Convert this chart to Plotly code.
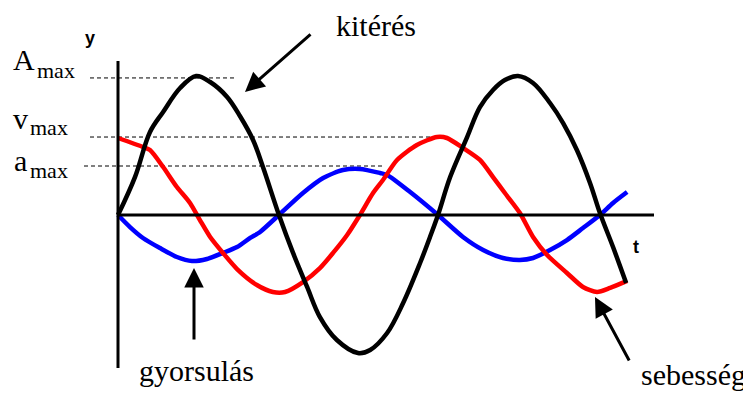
import plotly.graph_objects as go

# ---- data (time units, amplitude units) ----
t_kiteres = [0, 0.53, 1.0, 1.41, 1.94, 2.44, 2.88, 3.41, 3.81, 4.22, 4.53, 5.03, 5.47, 5.91,
             6.31, 6.84, 7.5, 7.88, 8.41, 8.91, 9.44, 9.75, 10.0, 10.38, 10.91, 11.31, 11.72,
             12.09, 12.5, 12.97, 13.5, 13.91, 14.34, 14.75, 15.06, 15.47, 15.88]
y_kiteres = [0, 2.71, 5.93, 7.36, 9.07, 9.93, 9.5, 8.43, 7.07, 5.36, 3.43, 0, -2.71, -5.14,
             -7.29, -8.93, -9.86, -9.64, -8.43, -6.29, -3.43, -1.57, 0, 2.71, 5.57, 7.71, 8.93,
             9.64, 9.93, 9.43, 8.0, 6.57, 4.64, 2.29, 0.14, -2.29, -4.86]

t_sebesseg = [0, 0.78, 1.0, 1.41, 1.84, 2.25, 2.56, 2.88, 3.28, 3.72, 4.34, 4.84, 5.22, 5.78,
              6.31, 6.72, 7.16, 7.56, 7.97, 8.28, 8.72, 9.34, 9.97, 10.28, 10.78, 11.31, 11.72,
              12.09, 12.56, 12.97, 13.41, 14.03, 14.53, 14.97, 15.38, 15.91]
y_sebesseg = [5.5, 4.86, 4.64, 3.43, 2.0, 0.86, -0.36, -1.57, -2.71, -3.86, -5.0, -5.5, -5.5, -4.79,
              -3.79, -2.71, -1.43, 0, 1.57, 2.5, 3.93, 5.0, 5.57, 5.5, 4.79, 3.93, 2.71,
              1.57, 0.14, -1.57, -2.86, -4.14, -5.14, -5.5, -5.21, -4.71]

t_gyorsulas = [0, 0.375, 0.78, 1.31, 1.84, 2.31, 2.78, 3.28, 3.72, 4.13, 4.44, 5.06, 5.78, 6.41,
               7.03, 7.56, 8.19, 8.41, 9.13, 10.0, 10.78, 11.41, 12.03, 12.56, 12.97, 13.5,
               14.03, 14.53, 15.06, 15.47, 15.91]
y_gyorsulas = [0, -0.86, -1.64, -2.36, -3.0, -3.29, -3.14, -2.71, -2.29, -1.64, -1.21, 0.07, 1.57, 2.64,
               3.21, 3.29, 3.0, 2.86, 1.64, 0, -1.57, -2.5, -3.07, -3.21, -3.07, -2.5,
               -1.79, -0.93, 0, 0.86, 1.64]

A_max = 9.79
v_max = 5.57
a_max = 3.5

SCREEN_W, SCREEN_H = 751, 393
PAGE_MARGIN = 8                          # default body margin of the html page
W, H = SCREEN_W - PAGE_MARGIN, SCREEN_H - PAGE_MARGIN
X0, Y0, SX, SY = 118, 215, 32.0, 14.0   # screen pixel of the origin and scale


def tx(px):
    return (px - X0) / SX


def ty(py):
    return (Y0 - py) / SY


fig = go.Figure()

# dashed reference lines
for val, x_from, x_to in [(A_max, 90, 237), (v_max, 90, 434), (a_max, 84, 383)]:
    fig.add_shape(type="line", x0=tx(x_from), x1=tx(x_to), y0=val, y1=val,
                  line=dict(color="black", width=1, dash="4px,3px"), layer="below")

# axes
fig.add_shape(type="line", x0=0, x1=tx(654), y0=0, y1=0, line=dict(color="black", width=3))
fig.add_shape(type="line", x0=0, x1=0, y0=ty(61), y1=ty(368), line=dict(color="black", width=3))

fig.add_trace(go.Scatter(x=t_gyorsulas, y=y_gyorsulas, mode="lines",
                         line=dict(color="#0000ff", width=4.5, shape="spline", smoothing=0.7)))
fig.add_trace(go.Scatter(x=t_sebesseg, y=y_sebesseg, mode="lines",
                         line=dict(color="#ff0000", width=4.5, shape="spline", smoothing=0.7)))
fig.add_trace(go.Scatter(x=t_kiteres, y=y_kiteres, mode="lines",
                         line=dict(color="black", width=4.5, shape="spline", smoothing=1.0)))

serif = "Liberation Serif, Times New Roman, serif"
sans = "Liberation Sans, Arial, sans-serif"

texts = [
    ("kitérés", 376, 25, 30, "center", serif),
    ("gyorsulás", 196, 370, 30, "center", serif),
    ("sebesség", 693, 374, 30, "center", serif),
    ("A", 24, 59, 30, "center", serif),
    ("max", 35, 70, 22, "left", serif),
    ("v", 20, 118, 30, "center", serif),
    ("max", 28, 127, 22, "left", serif),
    ("a", 20, 160, 30, "center", serif),
    ("max", 28, 170, 22, "left", serif),
]
for txt, px, py, fs, xa, fam in texts:
    fig.add_annotation(x=tx(px), y=ty(py), text=txt, showarrow=False, xanchor=xa, yanchor="middle",
                       font=dict(family=fam, size=fs, color="black"))

for txt, px, py in [("y", 90, 38), ("t", 636, 247)]:
    fig.add_annotation(x=tx(px), y=ty(py), text="<b>" + txt + "</b>", showarrow=False,
                       font=dict(family=sans, size=18, color="black"))

# arrows: (head px, head py, tail px, tail py)
for hx, hy, sx, sy in [(245, 92, 312, 33), (194, 268, 194, 341), (595, 297, 630, 362)]:
    fig.add_annotation(x=tx(hx), y=ty(hy), ax=tx(sx), ay=ty(sy), axref="x", ayref="y",
                       text="", showarrow=True, arrowhead=2, arrowsize=1.3, arrowwidth=3,
                       arrowcolor="black")

fig.update_layout(
    width=W, height=H, margin=dict(l=0, r=0, t=0, b=0),
    paper_bgcolor="white", plot_bgcolor="white", showlegend=False,
    xaxis=dict(range=[tx(PAGE_MARGIN), tx(SCREEN_W)], visible=False, fixedrange=True),
    yaxis=dict(range=[ty(SCREEN_H), ty(PAGE_MARGIN)], visible=False, fixedrange=True),
)

fig.write_html("out.html")
